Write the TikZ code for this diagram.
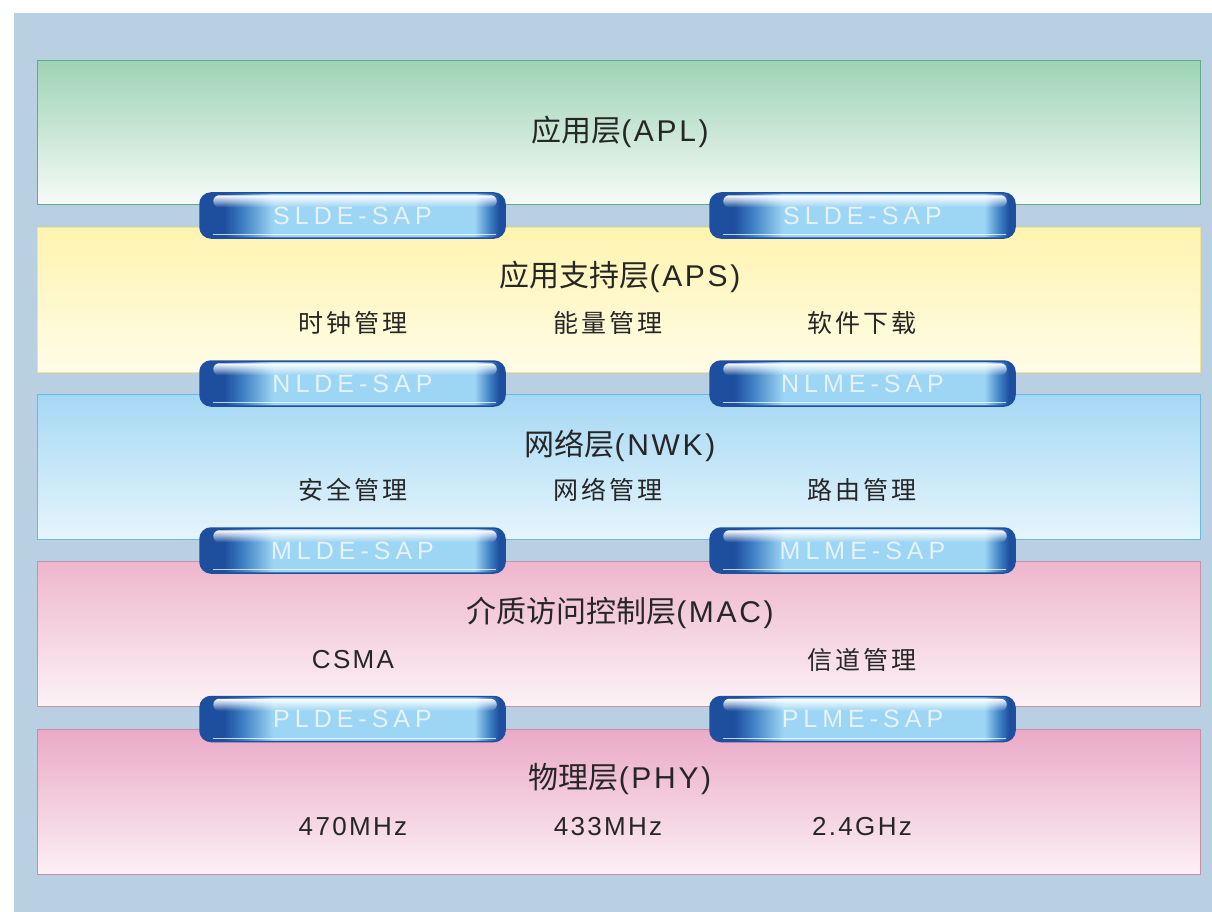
\documentclass[tikz,border=0pt]{standalone}
\usepackage{fontspec}
\setmainfont{Liberation Sans}
\newfontfamily\cjk{Noto Sans CJK SC}
\newfontfamily\lsp[LetterSpace=9]{Liberation Sans}
\newfontfamily\cjksp[LetterSpace=12]{Noto Sans CJK SC}
\newfontfamily\btnfont[LetterSpace=20]{Liberation Sans}
\usetikzlibrary{fadings}
\definecolor{bgc}{HTML}{B9CFE2}
\definecolor{bd}{HTML}{1E4F9F}
\definecolor{bm}{HTML}{3F7FC4}
\definecolor{bl}{HTML}{9DD5F4}
\definecolor{btxt}{HTML}{E6F3FB}
\definecolor{txt}{HTML}{262626}
\definecolor{aplD}{RGB}{95,172,135}\definecolor{aplT}{RGB}{158,211,180}\definecolor{aplB}{RGB}{246,251,248}
\definecolor{apsD}{RGB}{247,226,140}\definecolor{apsT}{RGB}{255,244,175}\definecolor{apsB}{RGB}{255,252,232}
\definecolor{nwkD}{RGB}{108,184,226}\definecolor{nwkT}{RGB}{166,216,244}\definecolor{nwkB}{RGB}{230,245,252}
\definecolor{macD}{RGB}{200,146,172}\definecolor{macT}{RGB}{238,182,204}\definecolor{macB}{RGB}{252,242,246}
\definecolor{phyD}{RGB}{200,140,168}\definecolor{phyT}{RGB}{234,170,198}\definecolor{phyB}{RGB}{252,240,245}
% path bounding box spans 25bp..75bp of the shading
\pgfdeclarehorizontalshading{btnshade}{100bp}{color(0bp)=(bd); color(25bp)=(bd); color(29bp)=(bd); color(32bp)=(bm); color(37bp)=(bl); color(70bp)=(bl); color(72.5bp)=(bm); color(74bp)=(bd); color(75bp)=(bd); color(100bp)=(bd)}
\newcommand\Ttl[2]{{\fontsize{30}{36}\selectfont\cjk #1\lsp #2}}
\newcommand\Itm[1]{{\fontsize{25}{30}\selectfont\cjksp #1}}
\newcommand\Itl[1]{{\fontsize{26}{30}\selectfont\lsp #1}}
\newcommand\btn[4]{%
  \node[btnbox] (#1) at (#2,#3) {\fontsize{25}{30}\selectfont\btnfont #4};
  \fill[white, path fading=south, rounded corners=6pt] ([shift={(14pt,-3pt)}]#1.north west) rectangle ([shift={(-9pt,-15pt)}]#1.north east);
  \draw[white, opacity=.75, line width=1.2pt] ([shift={(14pt,4pt)}]#1.south west) -- ([shift={(-10pt,4pt)}]#1.south east);
}
\tikzset{
  layerbox/.style={line width=1.3pt, minimum width=1163pt, minimum height=145pt, anchor=north west, inner sep=0pt},
  btnbox/.style={draw=bd, line width=1.5pt, rounded corners=11pt, minimum width=305pt, minimum height=45pt, inner sep=0pt, shading=btnshade, text=btxt},
  lbl/.style={text=txt, inner sep=0pt, anchor=center}
}
\begin{document}
\begin{tikzpicture}[x=1pt,y=-1pt]
\useasboundingbox (0,0) rectangle (1212,912);
\fill[white] (0,0) rectangle (1212,912);
\fill[bgc] (14,13) rectangle (1212,912);
% layers
\node[layerbox, draw=aplD, top color=aplT, bottom color=aplB, minimum height=144pt] (apl) at (37,60) {};
\node[layerbox, draw=apsD, top color=apsT, bottom color=apsB] (aps) at (37,227) {};
\node[layerbox, draw=nwkD, top color=nwkT, bottom color=nwkB] (nwk) at (37,394) {};
\node[layerbox, draw=macD, top color=macT, bottom color=macB] (mac) at (37,561) {};
\node[layerbox, draw=phyD, top color=phyT, bottom color=phyB] (phy) at (37,729) {};
% texts
\node[lbl] (t1) at (620,132) {\Ttl{应用层}{(APL)}};
\node[lbl] (t2) at (620,277) {\Ttl{应用支持层}{(APS)}};
\node[lbl] (a1) at (353,323) {\Itm{时钟管理}};
\node[lbl] (a2) at (608,323) {\Itm{能量管理}};
\node[lbl] (a3) at (862,323) {\Itm{软件下载}};
\node[lbl] (t3) at (620,446) {\Ttl{网络层}{(NWK)}};
\node[lbl] (n1) at (353,490) {\Itm{安全管理}};
\node[lbl] (n2) at (608,490) {\Itm{网络管理}};
\node[lbl] (n3) at (862,490) {\Itm{路由管理}};
\node[lbl] (t4) at (620,613) {\Ttl{介质访问控制层}{(MAC)}};
\node[lbl] (m1) at (353,660) {\Itl{CSMA}};
\node[lbl] (m3) at (862,660) {\Itm{信道管理}};
\node[lbl] (t5) at (620,779) {\Ttl{物理层}{(PHY)}};
\node[lbl] (p1) at (353,827) {\Itl{470MHz}};
\node[lbl] (p2) at (608,827) {\Itl{433MHz}};
\node[lbl] (p3) at (862,827) {\Itl{2.4GHz}};
% buttons
\btn{b1}{352.5}{215.5}{SLDE-SAP}
\btn{b2}{862.5}{215.5}{SLDE-SAP}
\btn{b3}{352.5}{383.5}{NLDE-SAP}
\btn{b4}{862.5}{383.5}{NLME-SAP}
\btn{b5}{352.5}{550.5}{MLDE-SAP}
\btn{b6}{862.5}{550.5}{MLME-SAP}
\btn{b7}{352.5}{719}{PLDE-SAP}
\btn{b8}{862.5}{719}{PLME-SAP}
\end{tikzpicture}
\end{document}
